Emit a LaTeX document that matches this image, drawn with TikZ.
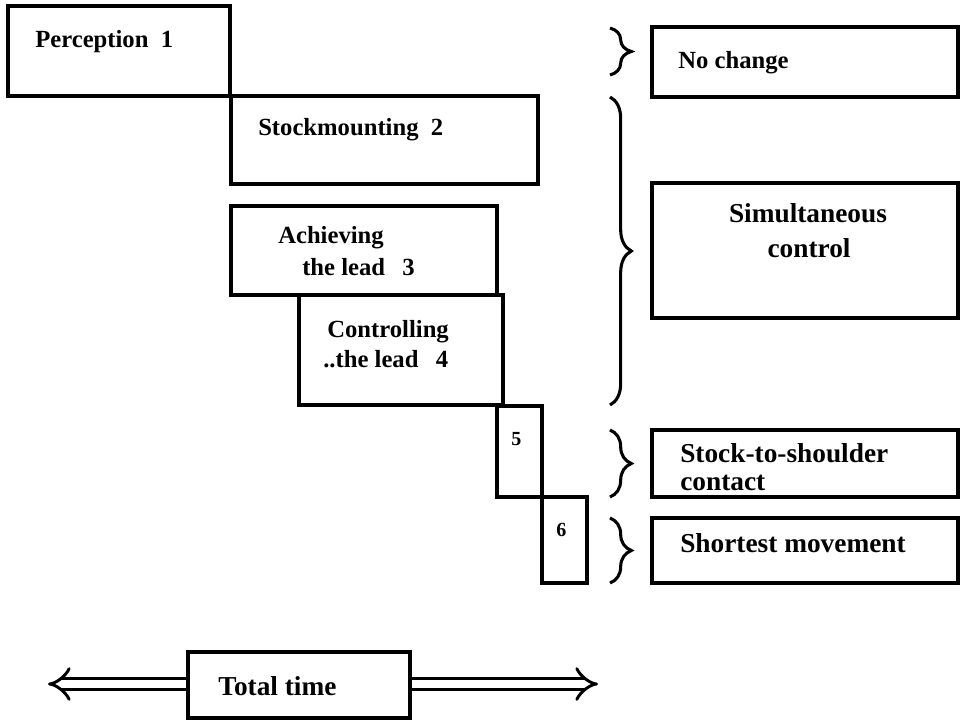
\documentclass[tikz,border=0pt]{standalone}
\usepackage{fontspec}
\setmainfont{Liberation Serif}
\usetikzlibrary{arrows.meta,decorations.pathreplacing,fit}

\tikzset{
  stage/.style={draw, line width=2.5pt, inner sep=0pt},
  smalltxt/.style={anchor=base west, inner sep=0pt, font=\fontsize{18.5}{22}\selectfont\bfseries},
  bigtxt/.style={anchor=base west, inner sep=0pt, font=\fontsize{20.5}{24}\selectfont\bfseries},
  numtxt/.style={anchor=base west, inner sep=0pt, font=\fontsize{15}{18}\selectfont\bfseries},
  curly/.style={decorate, decoration={brace, amplitude=16pt}, line width=2.3pt},
  dblarrow/.style={line width=2.2pt, double distance=6.5pt, -{Implies[scale=1.3]}}
}

\begin{document}
\begin{tikzpicture}[x=0.75pt,y=-0.75pt]
        \useasboundingbox (0,0) rectangle (960,722);
        % Stages on the left
        \node[stage, fit={(8,6) (230,96)}] (perc) {};
        \node[stage, fit={(231,96) (538,184)}] (mount) {};
        \node[stage, fit={(231,206) (497,295)}] (achieve) {};
        \node[stage, fit={(299,295) (503,405)}] (control) {};
        \node[stage, fit={(497,406) (542,497)}] (five) {};
        \node[stage, fit={(542,497) (587,583)}] (six) {};
        % Results on the right
        \node[stage, fit={(652,27) (958,97)}] (nochange) {};
        \node[stage, fit={(652,183) (958,318)}] (simul) {};
        \node[stage, fit={(652,430) (958,497)}] (contact) {};
        \node[stage, fit={(652,518) (958,583)}] (shortest) {};
        % Labels in the stages
        \node[smalltxt] (percl) at (35,47) {Perception\hspace{0.5em}1};
        \node[smalltxt] (mountl) at (258,135) {Stockmounting\hspace{0.5em}2};
        \node[smalltxt] (achla) at (278,243) {Achieving};
        \node[smalltxt] (achlb) at (302,275) {the lead\hspace{0.7em}3};
        \node[smalltxt] (conla) at (327,337) {Controlling};
        \node[smalltxt] (conlb) at (323,367) {..the lead\hspace{0.7em}4};
        \node[numtxt] (fivel) at (511,445) {5};
        \node[numtxt] (sixl) at (556,536) {6};
        % Labels in the results
        \node[smalltxt] (nochl) at (678,68) {No change};
        \node[bigtxt, anchor=base] (simla) at (808,222) {Simultaneous};
        \node[bigtxt, anchor=base] (simlb) at (809,257) {control};
        \node[bigtxt] (conta) at (680,462) {Stock-to-shoulder};
        \node[bigtxt] (contb) at (680,490) {contact};
        \node[bigtxt] (shorl) at (680,552) {Shortest movement};
        % Braces
        \draw[curly] (610,28) -- (610,75);
        \draw[curly] (610,97) -- (610,405);
        \draw[curly] (610,430) -- (610,497);
        \draw[curly] (610,518) -- (610,583);
        % Total time
        \node[stage, fit={(188,652) (410,718)}] (total) {};
        \node[bigtxt] (totall) at (218,695) {Total time};
        \coordinate (lefttip) at (48,684);
        \coordinate (righttip) at (598,684);
        \draw[dblarrow] (total.west |- lefttip) -- (lefttip);
        \draw[dblarrow] (total.east |- righttip) -- (righttip);
    \end{tikzpicture}
\end{document}
